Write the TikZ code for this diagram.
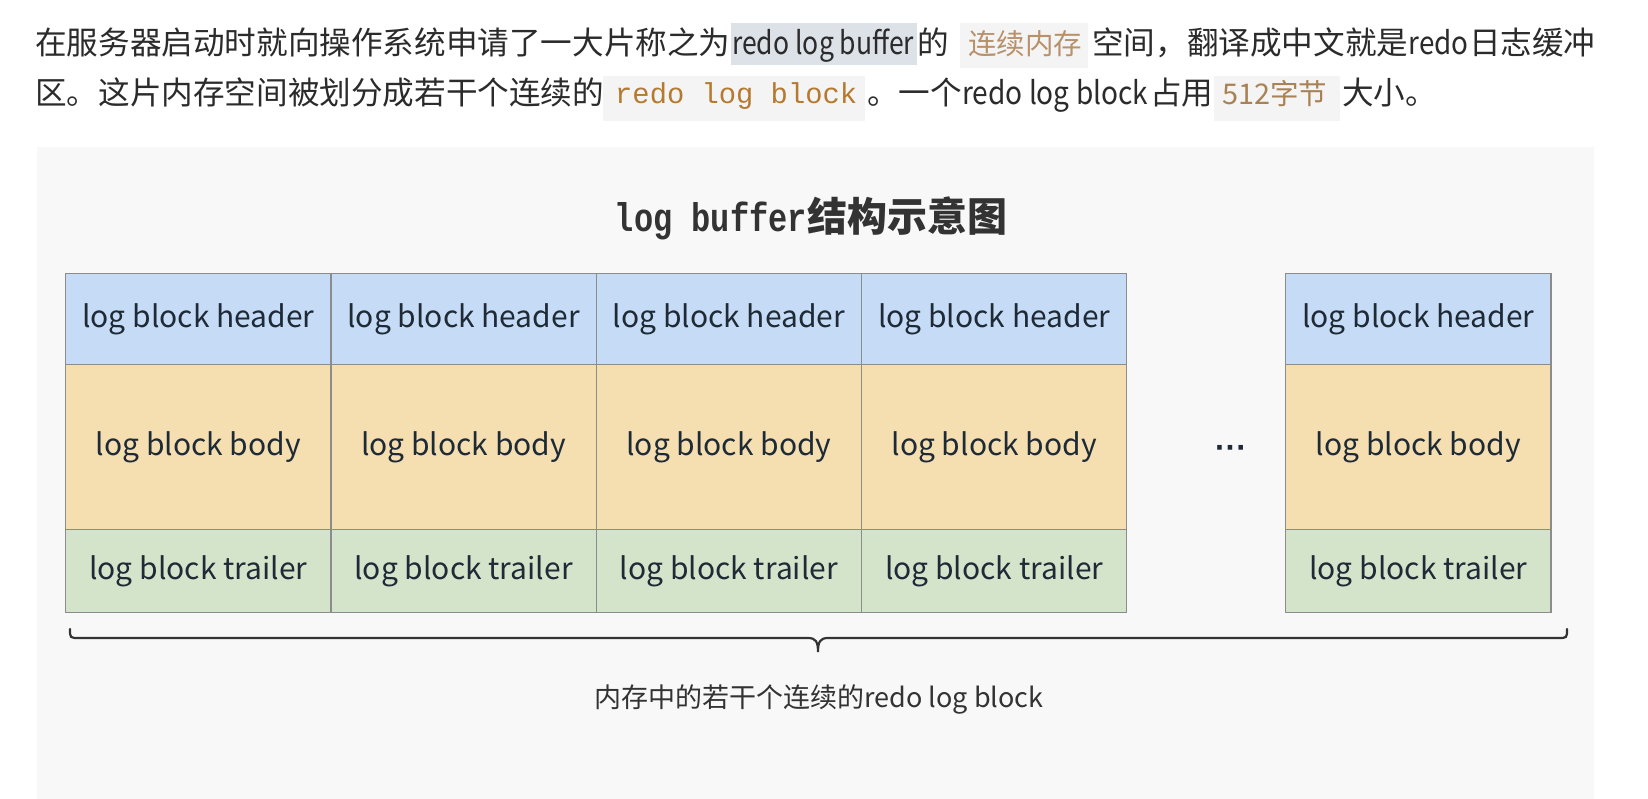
\documentclass[tikz,border=0pt]{standalone}
\usepackage{fontspec}
\usepackage{graphicx}
\setmainfont{Noto Sans CJK SC}
\newfontfamily\codefont{Liberation Mono}
\newfontfamily\dotfont{Liberation Sans}
\newcommand{\fitw}[2]{\resizebox{#1}{\height}{#2}}
\definecolor{panelbg}{HTML}{F8F8F8}
\definecolor{hlbg}{HTML}{DDE2E8}
\definecolor{codebg}{HTML}{F4F4F4}
\definecolor{paratext}{HTML}{2B2B2B}
\definecolor{brownA}{HTML}{B8916A}
\definecolor{brownB}{HTML}{B57A30}
\definecolor{brownC}{HTML}{A88255}
\definecolor{hdrfill}{HTML}{C6DCF6}
\definecolor{bdyfill}{HTML}{F5DFB1}
\definecolor{trlfill}{HTML}{D4E4CB}
\definecolor{cellborder}{HTML}{8C8C8C}
\definecolor{celltext}{HTML}{1E2A36}
\definecolor{darktext}{HTML}{333333}
\begin{document}
\begin{tikzpicture}[x=1pt,y=-1pt,
  para/.style={anchor=base west, inner sep=0pt, font=\fontsize{31.6}{36}\selectfont, text=paratext},
  cell/.style={draw=cellborder, line width=1.2pt, inner sep=0pt, minimum width=265.3pt, anchor=north west, text=celltext, font=\fontsize{30}{36}\selectfont},
  hdr/.style={cell, fill=hdrfill, minimum height=91pt},
  bdy/.style={cell, fill=bdyfill, minimum height=165pt},
  trl/.style={cell, fill=trlfill, minimum height=83pt}]
\useasboundingbox (0,0) rectangle (1648,799);
\fill[white] (0,0) rectangle (1648,799);
\fill[panelbg] (37,147) rectangle (1594,799);
% paragraph line 1
\fill[hlbg] (731,23) rectangle (917,65);
\fill[codebg] (960,23) rectangle (1088,68);
\node[para] (p1a) at (35,55) {在服务器启动时就向操作系统申请了一大片称之为};
\node[para] (p1b) at (732,55) {\fitw{182pt}{redo log buffer}};
\node[para] (p1c) at (917,55) {的};
\node[para, font=\fontsize{28.5}{34}\selectfont, text=brownA] (p1d) at (968,55) {连续内存};
\node[para] (p1e) at (1092,55) {空间，翻译成中文就是};
\node[para] (p1f) at (p1e.base east) {\fitw{60pt}{redo}};
\node[para] (p1g) at (p1f.base east) {日志缓冲};
% paragraph line 2
\fill[codebg] (603,76) rectangle (865,121);
\fill[codebg] (1214,76) rectangle (1340,121);
\node[para] (p2a) at (35,105) {区。这片内存空间被划分成若干个连续的};
\node[para, font=\codefont\fontsize{28.8}{34}\selectfont, text=brownB] (p2b) at (615,104) {redo log block};
\node[para] (p2c) at (867,105) {。一个};
\node[para] (p2d) at (962,105) {\fitw{186pt}{redo log block}};
\node[para] (p2e) at (1150,105) {占用};
\node[para, font=\fontsize{28.5}{34}\selectfont, text=brownC] (p2f) at (1222,105) {\fitw{48pt}{512}字节};
\node[para] (p2g) at (1342,105) {大小。};
% title
\node[text=darktext, inner sep=0pt, font=\fontsize{40}{46}\selectfont\bfseries] (title) at (811,218)
  {\scalebox{0.8}[1]{\codefont\bfseries log buffer}结构示意图};
% cells
\foreach \i/\x in {1/65, 2/330.3, 3/595.6, 4/860.9, 5/1285} {
  \node[hdr] (h\i) at (\x,273) {log block header};
  \node[bdy] (b\i) at (\x,364) {log block body};
  \node[trl] (t\i) at (\x,529) {log block trailer};
}
\node[text=celltext, inner sep=0pt, font=\dotfont\bfseries\fontsize{32}{36}\selectfont] (dots) at (1231,452) {···};
% brace
\draw[darktext, line width=2.2pt, line cap=round]
  (70,629) .. controls (70,638) .. (79,638) -- (808,638)
  .. controls (816,638) and (818,642) .. (818,652)
  .. controls (818,642) and (820,638) .. (828,638) -- (1558,638)
  .. controls (1567,638) .. (1567,629);
\node[text=darktext, inner sep=0pt, font=\fontsize{27}{32}\selectfont] (lbl) at (819,699) {内存中的若干个连续的redo log block};
\end{tikzpicture}
\end{document}
